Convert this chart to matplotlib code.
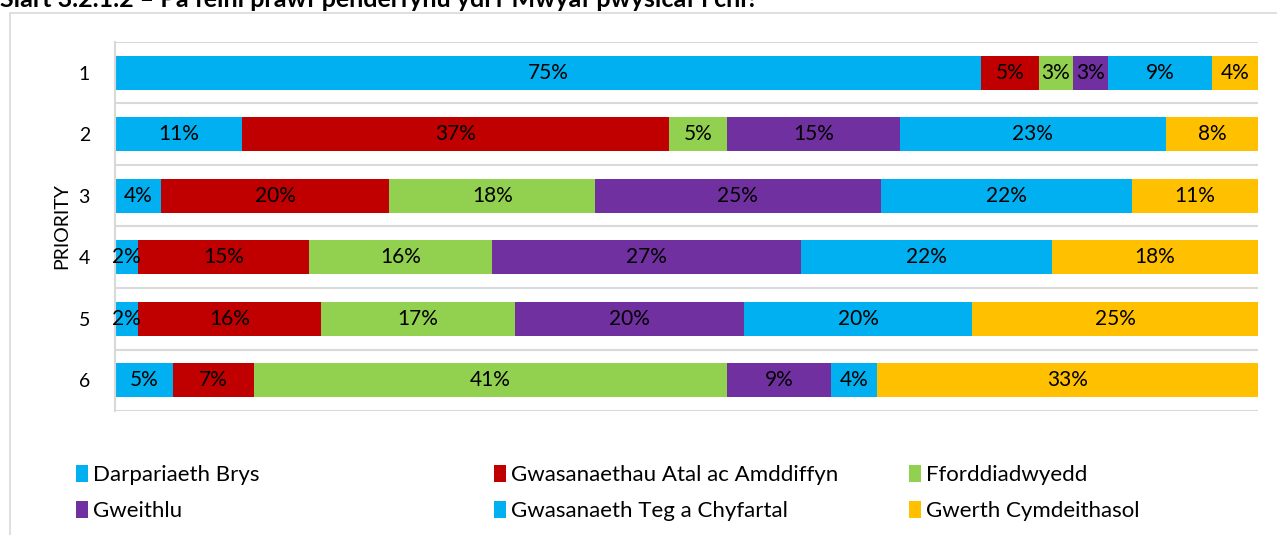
import matplotlib
matplotlib.use("Agg")
import matplotlib.pyplot as plt
from matplotlib.patches import Patch, Rectangle
import numpy as np

plt.rcParams['font.family'] = ['Lato', 'DejaVu Sans']

priorities = ["1", "2", "3", "4", "5", "6"]
series_names = ["Darpariaeth Brys", "Gwasanaethau Atal ac Amddiffyn", "Fforddiadwyedd",
                "Gweithlu", "Gwasanaeth Teg a Chyfartal", "Gwerth Cymdeithasol"]
darpariaeth = [75, 11, 4, 2, 2, 5]
gwasanaethau_atal = [5, 37, 20, 15, 16, 7]
fforddiadwyedd = [3, 5, 18, 16, 17, 41]
gweithlu = [3, 15, 25, 27, 20, 9]
gwasanaeth_teg = [9, 23, 22, 22, 20, 4]
gwerth = [4, 8, 11, 18, 25, 33]
colors = ["#00B0F0", "#C00000", "#92D050", "#7030A0", "#00B0F0", "#FFC000"]

title = "Siart 3.2.1.2 \u2013 Pa feini prawf penderfynu ydi'r Mwyaf pwysicaf i chi?"

W, H = 1277, 535
fig = plt.figure(figsize=(W / 100, H / 100), dpi=100)

# outer chart frame
fig.patches.append(Rectangle((10 / W, -0.1), 1.2, 1 - 13 / H + 0.1, transform=fig.transFigure,
                             fill=False, edgecolor="#D9D9D9", linewidth=1.2))
fig.text(0 / W, 1 - 7 / H, title, fontsize=18, fontweight="bold", va="baseline", ha="left")

ax = fig.add_axes([115 / W, 1 - 411 / H, (1258 - 115) / W, (411 - 42) / H])

data = np.array([darpariaeth, gwasanaethau_atal, fforddiadwyedd, gweithlu, gwasanaeth_teg, gwerth], dtype=float)
totals = data.sum(axis=0)
frac = data / totals * 100
y = np.arange(len(priorities))
left = np.zeros(len(priorities))
handles = []
for i, name in enumerate(series_names):
    ax.barh(y, frac[i], left=left, height=0.55, color=colors[i], label=name)
    for j in range(len(priorities)):
        ax.text(left[j] + frac[i][j] / 2, y[j], f"{int(data[i][j])}%", ha="center", va="center",
                fontsize=15, color="black")
    left += frac[i]
    handles.append(Patch(facecolor=colors[i], label=name))

ax.set_xlim(0, 100)
ax.set_ylim(len(priorities) - 0.5, -0.5)
for b in np.arange(-0.5, len(priorities), 1.0):
    ax.axhline(b, color="#D9D9D9", linewidth=1.5, zorder=0)
ax.set_yticks(y)
ax.set_yticklabels(priorities, fontsize=14)
ax.tick_params(axis="y", length=0, pad=18)
ax.set_xticks([])
for s in ["top", "right", "bottom"]:
    ax.spines[s].set_visible(False)
ax.spines["left"].set_color("#D9D9D9")
ax.spines["left"].set_linewidth(1.5)
ax.set_ylabel("PRIORITY", fontsize=14)
ax.yaxis.set_label_coords(-45 / (1258 - 115), 0.5)

col_x = [67, 485, 900]
for c in range(3):
    fig.legend(handles=[handles[c], handles[c + 3]], loc="upper left",
               bbox_to_anchor=(col_x[c] / W, 1 - 456 / H), frameon=False,
               fontsize=16, handlelength=0.55, handleheight=0.8, handletextpad=0.2,
               labelspacing=0.72, borderaxespad=0)

fig.savefig("out.png", dpi=100)
